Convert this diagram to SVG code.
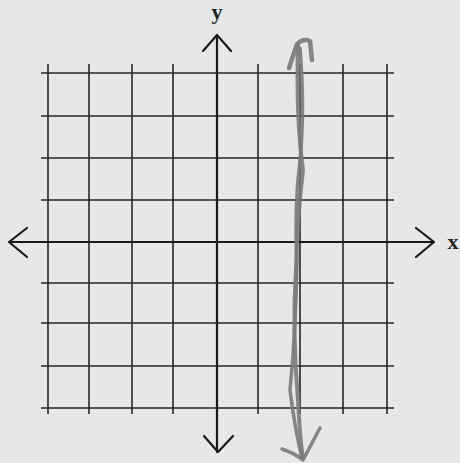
<svg xmlns="http://www.w3.org/2000/svg" width="460" height="463" viewBox="0 0 460 463">
<style>
.g{stroke:#262626;stroke-width:1.6;fill:none}
.a{stroke:#1a1a1a;stroke-width:2.2;fill:none;stroke-linecap:round;stroke-linejoin:round}
.h{stroke:#7a7a7a;fill:none;stroke-linecap:round;stroke-linejoin:round;opacity:0.9}
.t{font-family:"Liberation Serif",serif;font-size:22px;font-weight:bold;fill:#222}
</style>
<rect width="460" height="463" fill="#e7e7e7"/>
<g id="grid">
<path class="g" d="M48 64V414M89 64V414M132 64V414M173 64V414M258 64V414M300 64V414M343 64V414M387 64V414"/>
<path class="g" d="M41 73H394M41 116H394M41 158H394M41 200H394M41 283H394M41 323H394M41 366H394M41 408H394"/>
</g>
<g id="axes">
<path class="a" d="M217 35V452M203 51L217 35L231 51M204 436L218 452L233 436"/>
<path class="a" d="M9 242H434M27 228L9 242L27 257M416 228L434 242L416 257"/>
</g>
<g id="labels">
<text class="t" x="217" y="19" text-anchor="middle">y</text>
<text class="t" x="453" y="249" text-anchor="middle">x</text>
</g>
<g id="line">
<path class="h" stroke-width="4.5" d="M289 68L297 44Q303 38 310 41L312 60"/>
<path class="h" stroke-width="4" d="M298 45Q296 120 303 170Q297 220 296 270Q292 330 298 400Q300 440 303 458"/>
<path class="h" stroke-width="3.5" d="M300 48Q305 110 300 160Q294 210 297 260Q296 330 290 390Q295 430 302 458"/>
<path class="h" stroke-width="3.5" d="M282 449Q294 453 303 460L320 428"/>
</g>
</svg>
